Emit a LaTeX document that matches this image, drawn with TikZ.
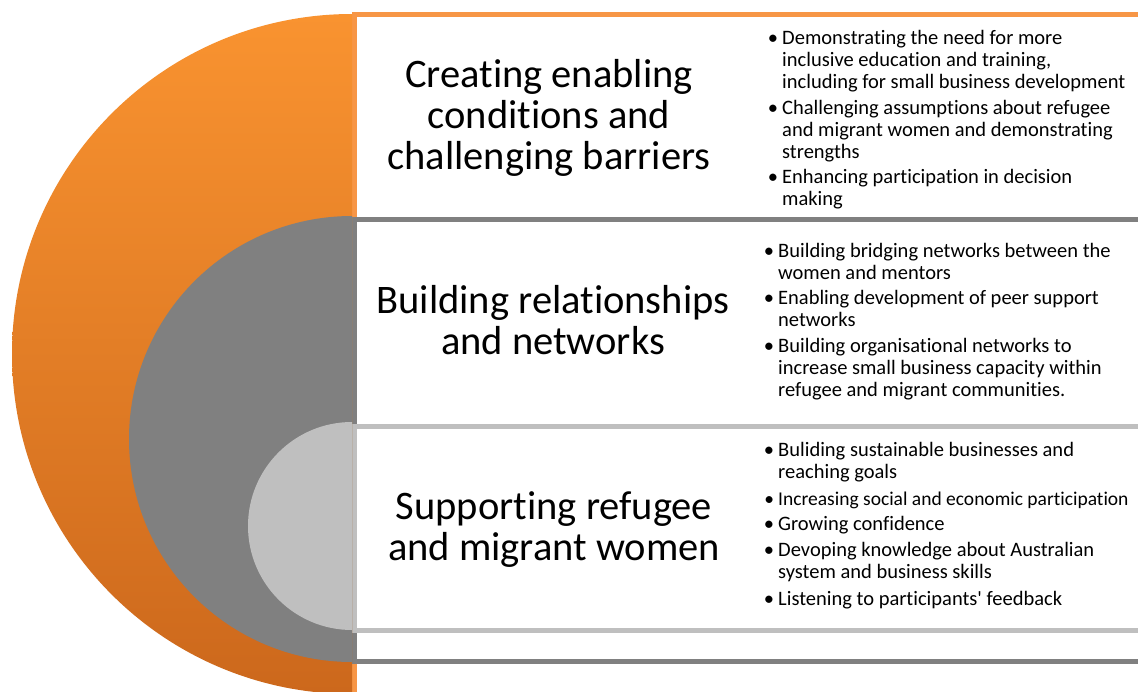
\documentclass[tikz,border=0pt]{standalone}
\usepackage{fontspec}
\setmainfont{Carlito}[RawFeature={-liga;-clig;-dlig;-calt}]
\definecolor{orangeTop}{HTML}{F99330}
\definecolor{orangeBot}{HTML}{CC681C}
\definecolor{orangeLine}{HTML}{F79646}
\definecolor{midGray}{HTML}{808080}
\definecolor{lightGray}{HTML}{BFBFBF}
\tikzset{
  band/.style={line width=5pt, fill=white},
  % anchor=base sits on the last line of a multi-line node
  heading/.style={align=center, font=\fontsize{40.5}{41}\selectfont, inner sep=0pt, anchor=base},
  point/.style={align=left, font=\fontsize{20.5}{22}\selectfont, inner sep=0pt, anchor=base west},
  narrow/.style={font=\fontsize{19.5}{22}\selectfont},
}
\newcommand\bulletmark{\llap{•\hspace{4pt}}}
\begin{document}
\begin{tikzpicture}[x=1pt,y=-1pt]
\useasboundingbox (0,0) rectangle (1138,691);
\fill[white] (0,0) rectangle (1138,691);
% framed bands, outermost first
\draw[band, draw=orangeLine] (354.5,14.8) rectangle (1160,720);
\draw[band, draw=midGray]    (354.5,219)  rectangle (1160,661.5);
\draw[band, draw=lightGray]  (354.5,426)  rectangle (1160,630);
% nested half discs on the left
\begin{scope}
  \clip (0,0) rectangle (352,700);
  \shade[top color=orangeTop, bottom color=orangeBot] (352,354) circle[radius=340];
  \fill[midGray]   (352,439) circle[radius=223];
  \fill[lightGray] (352,526) circle[radius=104];
\end{scope}
% headings (positions give the last baseline)
\node[heading] (h1) at (549,169)   {Creating enabling\\conditions and\\challenging barriers};
\node[heading] (h2) at (553,354.5) {Building relationships\\and networks};
\node[heading] (h3) at (554,560.5) {Supporting refugee\\and migrant women};
% first band points
\node[point] (p11) at (782,88.7)  {\bulletmark Demonstrating the need for more\\inclusive education and training,\\including for small business development};
\node[point] (p12) at (782,158.7) {\bulletmark Challenging assumptions about refugee\\and migrant women and demonstrating\\strengths};
\node[point] (p13) at (782,205.3) {\bulletmark Enhancing participation in decision\\making};
% second band points
\node[point] (p21) at (778,279.7) {\bulletmark Building bridging networks between the\\women and mentors};
\node[point] (p22) at (778,326.7) {\bulletmark Enabling development of peer support\\networks};
\node[point] (p23) at (778,396.5) {\bulletmark Building organisational networks to\\increase small business capacity within\\refugee and migrant communities.};
% third band points
\node[point] (p31) at (778,478)   {\bulletmark Buliding sustainable businesses and\\reaching goals};
\node[point, narrow] (p32) at (778,505) {\bulletmark Increasing social and economic participation};
\node[point] (p33) at (778,530)   {\bulletmark Growing confidence};
\node[point] (p34) at (778,578)   {\bulletmark Devoping knowledge about Australian\\system and business skills};
\node[point] (p35) at (778,605)   {\bulletmark Listening to participants\textquotesingle{} feedback};
\end{tikzpicture}
\end{document}
